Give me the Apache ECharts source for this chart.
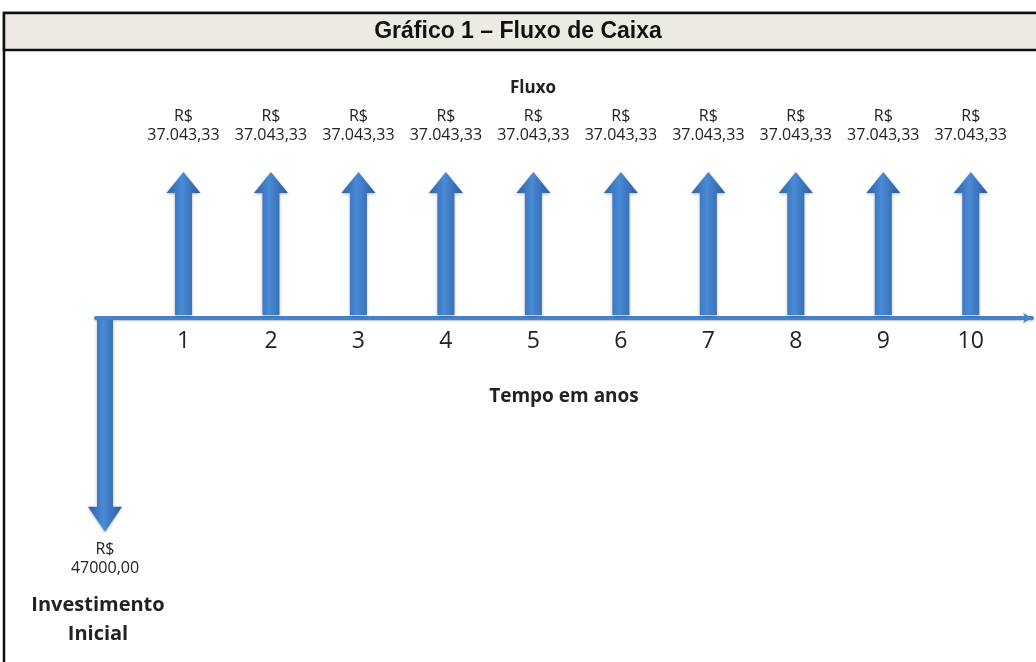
<!DOCTYPE html>
<html>
<head>
<meta charset="utf-8">
<script src="https://cdn.jsdelivr.net/npm/echarts@6/dist/echarts.min.js"></script>
<style>
  html, body { margin: 0; padding: 0; background: #fff; }
  #grafico { width: 1036px; height: 662px; }
</style>
</head>
<body>
<div id="grafico"></div>
<script>
// dados do fluxo de caixa
const anos = [1, 2, 3, 4, 5, 6, 7, 8, 9, 10];
const entradas = [37043.33, 37043.33, 37043.33, 37043.33, 37043.33, 37043.33, 37043.33, 37043.33, 37043.33, 37043.33];
const rotulosEntradas = ['37.043,33', '37.043,33', '37.043,33', '37.043,33', '37.043,33', '37.043,33', '37.043,33', '37.043,33', '37.043,33', '37.043,33'];
const anoInvestimento = [0];
const investimento = [-47000];
const rotulosInvestimento = ['47000,00'];

const fonte = '"Open Sans", "Noto Sans", sans-serif';

// seta desenhada a partir do zero do eixo ate o valor
function seta(params, api, rotulos, deslocX) {
  const x = api.value(0);
  const v = api.value(1);
  const base = api.coord([x, 0]);
  const ponta = api.coord([x, v]);
  const cx = base[0] + deslocX;
  const subindo = ponta[1] < base[1];
  const meia = subindo ? 8.5 : 8;
  const cabeca = 17;
  const compCabeca = subindo ? 21 : 25;
  const d = subindo ? 1 : -1;
  const pescoco = ponta[1] + d * compCabeca;
  const inicio = subindo ? base[1] - 3 : base[1] + 2;
  const pontos = [
    [cx - meia, inicio], [cx - meia, pescoco], [cx - cabeca, pescoco],
    [cx, ponta[1]], [cx + cabeca, pescoco], [cx + meia, pescoco], [cx + meia, inicio]
  ];
  const texto = 'R$\n' + rotulos[params.dataIndex];
  return {
    type: 'group',
    children: [
      {
        type: 'polygon',
        shape: { points: pontos },
        style: {
          fill: new echarts.graphic.LinearGradient(0, 0, 1, 0, [
            { offset: 0, color: '#2d62a8' },
            { offset: 0.45, color: '#4a8ad6' },
            { offset: 1, color: '#2a5c9f' }
          ]),
          shadowBlur: 3,
          shadowColor: 'rgba(0,0,0,0.3)',
          shadowOffsetY: 1
        }
      },
      {
        type: 'text',
        style: {
          text: texto,
          x: cx,
          y: subindo ? ponta[1] - 27 : ponta[1] + 8,
          align: 'center',
          verticalAlign: subindo ? 'bottom' : 'top',
          font: '16px ' + fonte,
          lineHeight: 19,
          fill: '#222'
        }
      }
    ]
  };
}

const chart = echarts.init(document.getElementById('grafico'));

const option = {
  animation: false,
  backgroundColor: '#fff',
  grid: { left: 96, right: 4, top: 81.5, bottom: 107.5 },
  xAxis: {
    type: 'value',
    min: 0,
    max: 10.7,
    interval: 1,
    offset: -236.5,
    name: 'Tempo em anos',
    nameLocation: 'middle',
    nameGap: 69,
    nameTextStyle: { fontFamily: fonte, fontSize: 19, fontWeight: 'bold', color: '#222' },
    axisLine: {
      onZero: false,
      symbol: ['none', 'arrow'],
      symbolSize: [8, 9],
      lineStyle: { color: '#4683cc', width: 4, shadowBlur: 2, shadowColor: 'rgba(0,0,0,0.25)', shadowOffsetY: 1 }
    },
    axisTick: { show: false },
    splitLine: { show: false },
    axisLabel: {
      fontFamily: fonte,
      fontSize: 23,
      color: '#222',
      margin: 12,
      formatter: function (v) { return v >= 1 && v <= 10 && v % 1 === 0 ? String(v) : ''; }
    }
  },
  yAxis: [
    { type: 'value', min: -60000, max: 60000, show: false, splitLine: { show: false } },
    { type: 'value', min: -52000, max: 52000, show: false, splitLine: { show: false } }
  ],
  series: [
    {
      name: 'Entradas',
      type: 'custom',
      yAxisIndex: 0,
      data: anos.map((a, i) => [a, entradas[i]]),
      renderItem: (params, api) => seta(params, api, rotulosEntradas, 0)
    },
    {
      name: 'Investimento',
      type: 'custom',
      yAxisIndex: 1,
      data: anoInvestimento.map((a, i) => [a, investimento[i]]),
      renderItem: (params, api) => seta(params, api, rotulosInvestimento, 9)
    }
  ],
  graphic: [
    {
      type: 'rect',
      z: -1,
      shape: { x: 4, y: 13, width: 1040, height: 700 },
      style: { fill: 'none', stroke: '#111', lineWidth: 2.5 }
    },
    {
      type: 'rect',
      shape: { x: 4, y: 13, width: 1040, height: 37 },
      style: { fill: '#edeae3', stroke: '#111', lineWidth: 2.5 }
    },
    {
      type: 'text',
      x: 518,
      y: 32,
      style: {
        text: 'Gráfico 1 – Fluxo de Caixa',
        align: 'center',
        verticalAlign: 'middle',
        font: 'bold 23px "Liberation Sans Narrow", "Liberation Sans", sans-serif',
        fill: '#111'
      }
    },
    {
      type: 'text',
      x: 533,
      y: 88,
      style: {
        text: 'Fluxo',
        align: 'center',
        verticalAlign: 'middle',
        font: 'bold 17px ' + fonte,
        fill: '#222'
      }
    },
    {
      type: 'text',
      x: 98,
      y: 620,
      style: {
        text: 'Investimento\nInicial',
        align: 'center',
        verticalAlign: 'middle',
        font: 'bold 20px ' + fonte,
        lineHeight: 29,
        fill: '#222'
      }
    }
  ]
};

chart.setOption(option);
</script>
</body>
</html>
